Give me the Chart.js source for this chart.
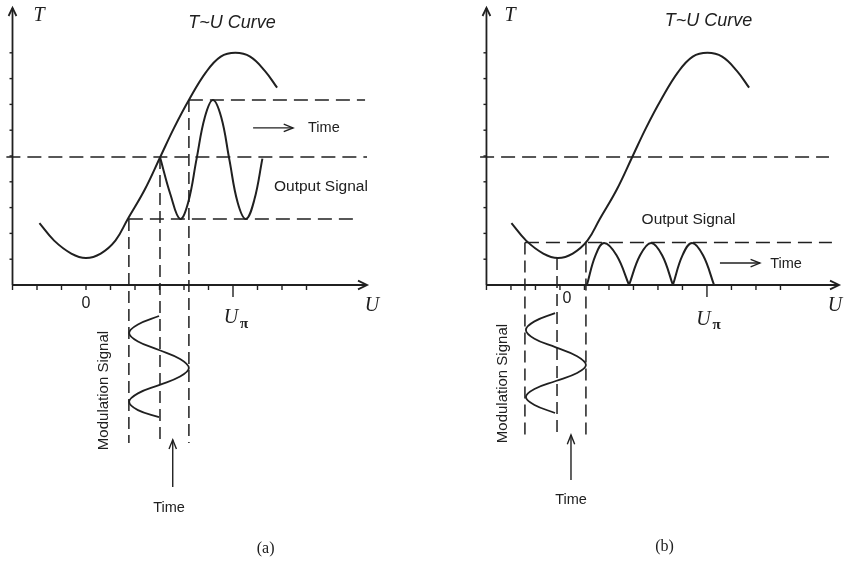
<html>
<head>
<script src="https://cdn.jsdelivr.net/npm/chart.js"></script>
<style>
  body { margin: 0; background: #fff; }
  canvas { position: absolute; top: 0; }
</style>
</head>
<body>
<canvas id="panelA" width="427" height="564" style="left:0"></canvas>
<canvas id="panelB" width="427" height="564" style="left:427px"></canvas>
<script>
// U in tick steps (0 = curve minimum, U_pi = 6), T in tick steps (0 = U axis)
const CURVE_U = [-1.9, -1.3, -0.6, 0, 0.6, 1.2, 1.7, 2.4, 3.05, 3.6, 4.2, 4.9, 5.5, 6.1, 6.7, 7.3, 7.8]
const CURVE_T = [2.4, 1.72, 1.22, 1.05, 1.22, 1.72, 2.55, 3.7, 5.0, 6.1, 7.17, 8.25, 8.85, 9.0, 8.85, 8.3, 7.65]
const Y_TICKS = [1, 2, 3, 4, 5, 6, 7, 8, 9]

// (a) bias at the middle of the slope
const A_X_TICKS = [-3, -2, -1, 0, 1, 2, 3, 4, 5, 6, 7, 8, 9]
const A_MOD_U = [2.98, 2.12, 1.76, 2.12, 2.98, 3.84, 4.2, 3.84, 2.98, 2.12, 1.76, 2.12, 2.98]
const A_MOD_T = [-1.2, -1.53, -1.86, -2.19, -2.52, -2.87, -3.22, -3.55, -3.88, -4.2, -4.53, -4.85, -5.12]
const A_OUT_U = [3.02, 3.45, 3.84, 4.17, 4.51, 4.85, 5.18, 5.52, 5.85, 6.19, 6.53, 6.87, 7.2]
const A_OUT_T = [4.96, 3.5, 2.56, 3.2, 4.87, 6.5, 7.17, 6.5, 4.87, 3.2, 2.56, 3.3, 4.9]
const A_HDASH_FROM = [-3.25, 4.2, 1.75]
const A_HDASH_TO = [11.47, 11.39, 11.1]
const A_HDASH_T = [4.96, 7.17, 2.56]
const A_VDASH_U = [1.75, 3.02, 4.2]
const A_VDASH_TOP = [2.56, 4.96, 7.17]
const A_VDASH_BOTTOM = -6.12

// (b) bias at the curve minimum
const B_X_TICKS = [-2.92, -1.92, -0.92, 0.08, 1.08, 2.08, 3.08, 4.08, 5.08, 6.08, 7.08, 8.08, 9.08]
const B_MOD_U = [-0.12, -0.96, -1.31, -0.96, -0.09, 0.78, 1.14, 0.78, -0.09, -0.96, -1.31, -0.96, -0.12]
const B_MOD_T = [-1.09, -1.41, -1.74, -2.08, -2.42, -2.76, -3.1, -3.41, -3.72, -4.03, -4.34, -4.65, -4.96]
const B_HUMP_U = [
    [1.18, 1.53, 1.88, 2.39, 2.9],
    [2.9, 3.35, 3.8, 4.25, 4.69],
    [4.69, 5.08, 5.47, 5.92, 6.37],
]
const B_HUMP_T = [0, 1.15, 1.63, 1.15, 0]
const B_HDASH_FROM = [-3.18, -1.35]
const B_HDASH_TO = [11.06, 11.18]
const B_HDASH_T = [4.96, 1.65]
const B_VDASH_U = [-1.35, -0.04, 1.14]
const B_VDASH_TOP = [1.65, 1.05, 1.65]
const B_VDASH_BOTTOM = -5.93

const INK = '#202020'
const PX_PER_U = 24.5
const PX_PER_T = 25.8
const T_TOP = 285 / PX_PER_T

const SERIF_IT = 'italic 20px "Liberation Serif"'
const SANS = (s) => `${s}px "Liberation Sans"`

function pts(us, ts) {
    return us.map((u, i) => ({ x: u, y: ts[i] }))
}

function line(data, extra = {}) {
    return {
        data,
        showLine: true,
        borderColor: INK,
        borderWidth: 1.8,
        pointRadius: 0,
        tension: 0,
        ...extra,
    }
}

const dashH = (from, to, t) => from.map((f, i) => line([{ x: f, y: t[i] }, { x: to[i], y: t[i] }], { borderDash: [14, 7], borderWidth: 1.5 }))
const dashV = (us, top, bottom) => us.map((u, i) => line([{ x: u, y: top[i] }, { x: u, y: bottom }], { borderDash: [12, 6], borderWidth: 1.5 }))

const diagram = {
    id: 'diagram',
    afterDatasetsDraw(chart, args, opts) {
        const { ctx, scales: { x, y } } = chart
        ctx.save()
        chart.data.datasets.forEach((ds, i) => {
            if (!ds.arrowHead) return
            const p = chart.getDatasetMeta(i).data
            const a = p[p.length - 2], b = p[p.length - 1]
            const ang = Math.atan2(b.y - a.y, b.x - a.x)
            const [len, spread] = ds.arrowHead
            ctx.strokeStyle = INK
            ctx.lineWidth = ds.borderWidth
            ctx.beginPath()
            ctx.moveTo(b.x - len * Math.cos(ang - spread), b.y - len * Math.sin(ang - spread))
            ctx.lineTo(b.x, b.y)
            ctx.lineTo(b.x - len * Math.cos(ang + spread), b.y - len * Math.sin(ang + spread))
            ctx.stroke()
        })

        const ax = x.getPixelForValue(opts.axisU)
        const ay = y.getPixelForValue(0)
        ctx.strokeStyle = INK
        ctx.lineWidth = 1.4
        opts.xTicks.forEach((v, i) => {
            const px = x.getPixelForValue(v)
            ctx.beginPath()
            ctx.moveTo(px, ay)
            ctx.lineTo(px, ay + (i === 9 ? 12 : 5))
            ctx.stroke()
        })
        Y_TICKS.forEach((v) => {
            const py = y.getPixelForValue(v)
            ctx.beginPath()
            ctx.moveTo(ax - 3, py)
            ctx.lineTo(ax, py)
            ctx.stroke()
        })

        ctx.fillStyle = INK
        ctx.textAlign = 'center'
        ctx.textBaseline = 'middle'
        opts.labels.forEach((l) => {
            ctx.save()
            ctx.translate(x.getPixelForValue(l.u), y.getPixelForValue(l.t))
            if (l.rotate) ctx.rotate(-Math.PI / 2)
            ctx.font = l.font
            ctx.fillText(l.text, 0, 0)
            if (l.sub) {
                ctx.font = 'bold 15px "Liberation Serif"'
                ctx.fillText(l.sub, 13, 6)
            }
            ctx.restore()
        })
        ctx.restore()
    },
}

function panel(id, p) {
    const datasets = [
        // axes
        line([{ x: p.axisU, y: 0 }, { x: p.axisU, y: 10.74 }], { arrowHead: [9, 0.45] }),
        line([{ x: p.axisU, y: 0 }, { x: 11.47, y: 0 }], { arrowHead: [10, 0.45] }),
        ...p.dashed,
        line(pts(CURVE_U, CURVE_T), { tension: 0.4, borderWidth: 2 }),
        line(p.mod, { tension: 0.4, borderWidth: 1.8 }),
        ...p.out.map((d) => line(d, { tension: 0.4, borderWidth: 2 })),
        ...p.arrows.map((d) => line(d, { borderWidth: 1.4, arrowHead: [10, 0.38] })),
    ]
    return new Chart(document.getElementById(id), {
        type: 'scatter',
        data: { datasets },
        options: {
            responsive: false,
            animation: false,
            events: [],
            layout: { padding: 0 },
            scales: {
                x: { type: 'linear', min: p.xMin, max: p.xMin + 427 / PX_PER_U, display: false },
                y: { type: 'linear', min: T_TOP - 564 / PX_PER_T, max: T_TOP, display: false },
            },
            plugins: {
                legend: { display: false },
                tooltip: { enabled: false },
                diagram: { axisU: p.axisU, xTicks: p.xTicks, labels: p.labels },
            },
        },
        plugins: [diagram],
    })
}

panel('panelA', {
    xMin: -86 / PX_PER_U,
    axisU: -3,
    xTicks: A_X_TICKS,
    dashed: [...dashH(A_HDASH_FROM, A_HDASH_TO, A_HDASH_T), ...dashV(A_VDASH_U, A_VDASH_TOP, A_VDASH_BOTTOM)],
    mod: pts(A_MOD_U, A_MOD_T),
    out: [pts(A_OUT_U, A_OUT_T)],
    arrows: [
        [{ x: 6.82, y: 6.09 }, { x: 8.45, y: 6.09 }],
        [{ x: 3.54, y: -7.83 }, { x: 3.54, y: -6.0 }],
    ],
    labels: [
        { text: 'T', u: -1.92, t: 10.43, font: SERIF_IT },
        { text: 'T~U Curve', u: 5.96, t: 10.16, font: 'italic ' + SANS(18) },
        { text: 'Time', u: 9.71, t: 6.1, font: SANS(14.5) },
        { text: 'Output Signal', u: 9.59, t: 3.8, font: SANS(15.5) },
        { text: '0', u: 0, t: -0.72, font: SANS(16) },
        { text: 'U', sub: 'π', u: 5.92, t: -1.28, font: SERIF_IT },
        { text: 'U', u: 11.67, t: -0.81, font: SERIF_IT },
        { text: 'Modulation Signal', u: 0.71, t: -4.09, font: SANS(15), rotate: true },
        { text: 'Time', u: 3.39, t: -8.64, font: SANS(14.5) },
        { text: '(a)', u: 7.33, t: -10.23, font: '16px "Liberation Serif"' },
    ],
})

panel('panelB', {
    xMin: -(558 - 427) / PX_PER_U,
    axisU: -2.92,
    xTicks: B_X_TICKS,
    dashed: [...dashH(B_HDASH_FROM, B_HDASH_TO, B_HDASH_T), ...dashV(B_VDASH_U, B_VDASH_TOP, B_VDASH_BOTTOM)],
    mod: pts(B_MOD_U, B_MOD_T),
    out: B_HUMP_U.map((us) => pts(us, B_HUMP_T)),
    arrows: [
        [{ x: 6.61, y: 0.85 }, { x: 8.24, y: 0.85 }],
        [{ x: 0.53, y: -7.56 }, { x: 0.53, y: -5.81 }],
    ],
    labels: [
        { text: 'T', u: -1.96, t: 10.43, font: SERIF_IT },
        { text: 'T~U Curve', u: 6.14, t: 10.25, font: 'italic ' + SANS(18) },
        { text: 'Output Signal', u: 5.33, t: 2.52, font: SANS(15.5) },
        { text: 'Time', u: 9.31, t: 0.81, font: SANS(14.5) },
        { text: '0', u: 0.37, t: -0.54, font: SANS(16) },
        { text: 'U', sub: 'π', u: 5.94, t: -1.34, font: SERIF_IT },
        { text: 'U', u: 11.31, t: -0.81, font: SERIF_IT },
        { text: 'Modulation Signal', u: -2.24, t: -3.82, font: SANS(15), rotate: true },
        { text: 'Time', u: 0.53, t: -8.33, font: SANS(14.5) },
        { text: '(b)', u: 4.35, t: -10.16, font: '16px "Liberation Serif"' },
    ],
})
</script>
</body>
</html>
